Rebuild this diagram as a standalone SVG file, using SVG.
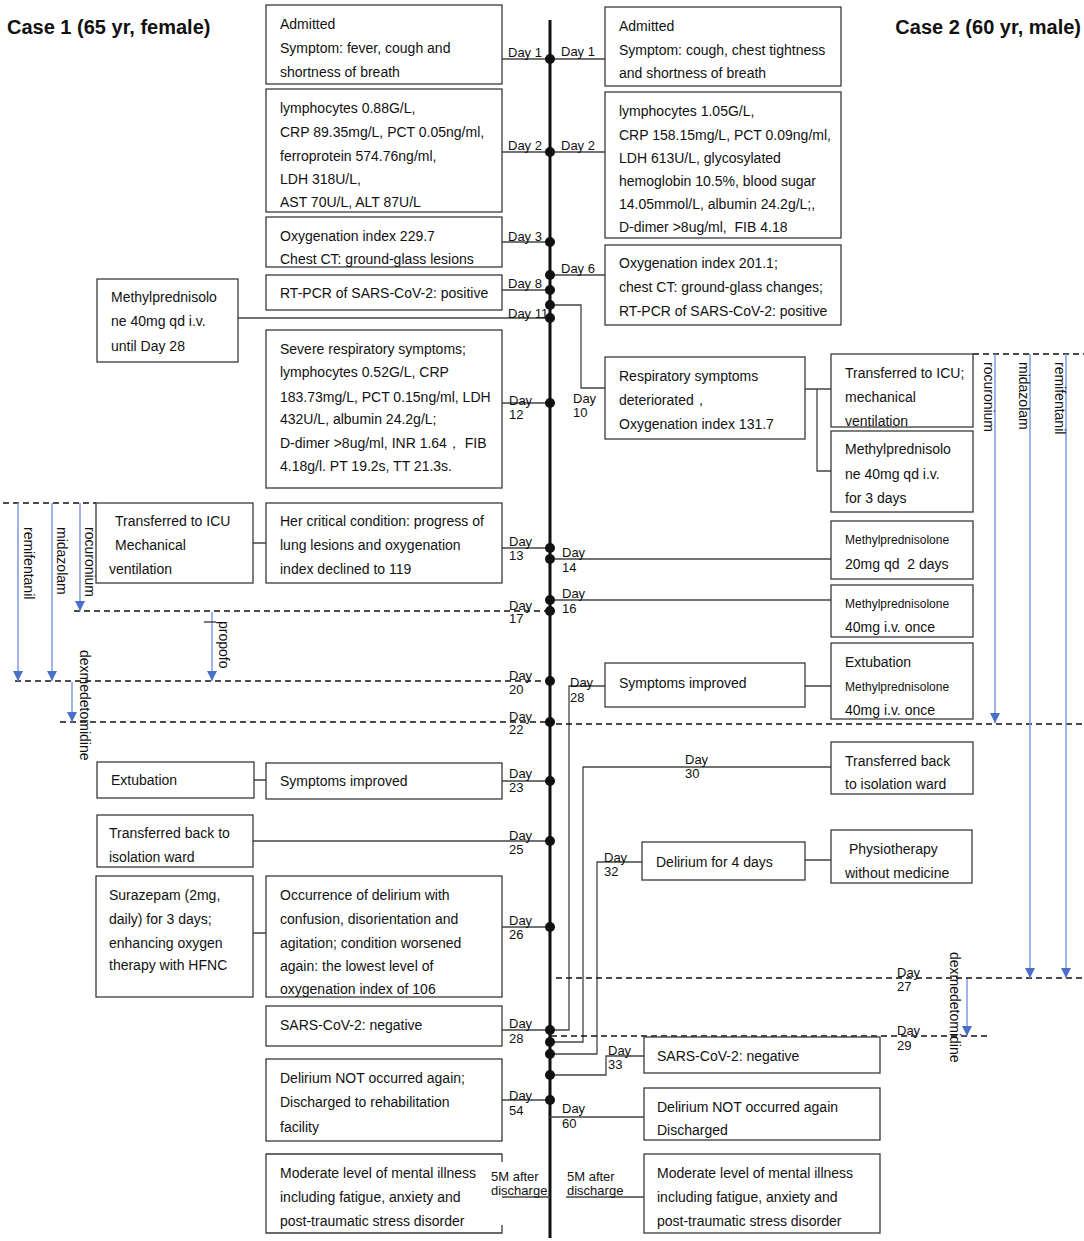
<svg xmlns="http://www.w3.org/2000/svg" width="1084" height="1241" viewBox="0 0 1084 1241">
<style>
.bx{fill:#fff;stroke:#3a3a3a;stroke-width:1.3}
text{font-family:"Liberation Sans",Arial,sans-serif;fill:#111}
.t{font-size:14px}
.s{font-size:12px}
.d{font-size:13px}
.h{font-size:20px;font-weight:bold}
.c{stroke:#444;stroke-width:1.3;fill:none}
.ds{stroke:#111;stroke-width:1.5;stroke-dasharray:6 4;fill:none}
.bl{stroke:#7c9bdc;stroke-width:1.5;fill:none;marker-end:url(#ar)}
.ax{stroke:#111;stroke-width:3}
</style>
<defs>
<marker id="ar" viewBox="0 0 10 10" refX="5" refY="10" markerWidth="10" markerHeight="10" markerUnits="userSpaceOnUse" orient="0">
<path d="M0,0 L10,0 L5,10 Z" fill="#4a6fc8"/>
</marker>
</defs>
<rect width="1084" height="1241" fill="#fff"/>
<text class="h" x="7" y="34">Case 1 (65 yr, female)</text>
<text class="h" x="1081" y="34" text-anchor="end">Case 2 (60 yr, male)</text>

<g id="connectors">
<line class="ax" x1="550" y1="20" x2="550" y2="1238"/>
<path class="c" d="M502,59H550M502,152H550M502,242H550M502,290H550M238,318H550M502,403H550M502,548H550M502,781H550M253,841H550M502,927H550M502,1030H550M502,1100H550M502,1197H550"/>
<path class="c" d="M253,543H266M254,780H266M253,933H266"/>
<path class="c" d="M550,59H605M550,152H605M550,275H605M550,305H581V388H605M550,559H831M550,600H831"/>
<path class="c" d="M550,1030H569V686H605M550,1042H583V767H831M550,1054H597V862H642M550,1075H606V1056H644M550,1117H644M566,1197H644"/>
<path class="c" d="M805,389H831M817,389V471H831M805,686H831M805,860H831"/>
<path class="ds" d="M3,503H96M74,611H550M15,681H550M60,722H550M556,724H1084M973,354H1084M556,978H1084M551,1036H989"/>
<path class="bl" d="M18,503V681"/>
<path class="bl" d="M52,503V681"/>
<path class="bl" d="M80,503V611"/>
<path class="bl" d="M212,612V681"/>
<path class="bl" d="M72,682V722"/>
<path class="c" style="stroke:#333" d="M204,622H216"/>
<path class="bl" d="M995,354V723"/>
<path class="bl" d="M1030,354V978"/>
<path class="bl" d="M1066,354V978"/>
<path class="bl" d="M967,979V1036"/>
<g fill="#111">
<circle cx="550" cy="59" r="5"/><circle cx="550" cy="152" r="5"/><circle cx="550" cy="242" r="5"/>
<circle cx="550" cy="275" r="5"/><circle cx="550" cy="290" r="5"/><circle cx="550" cy="305" r="5"/><circle cx="550" cy="318" r="5"/>
<circle cx="550" cy="403" r="5"/><circle cx="550" cy="548" r="5"/><circle cx="550" cy="559" r="5"/>
<circle cx="550" cy="600" r="5"/><circle cx="550" cy="611" r="5"/><circle cx="550" cy="681" r="5"/>
<circle cx="550" cy="722" r="5"/><circle cx="550" cy="781" r="5"/><circle cx="550" cy="841" r="5"/>
<circle cx="550" cy="927" r="5"/><circle cx="550" cy="1030" r="5"/><circle cx="550" cy="1042" r="5"/>
<circle cx="550" cy="1054" r="5"/><circle cx="550" cy="1075" r="5"/><circle cx="550" cy="1100" r="5"/>
</g>
</g>

<g id="drug-labels">
<text class="t" transform="translate(24,527) rotate(90)">remifentanil</text>
<text class="t" transform="translate(57,527) rotate(90)">midazolam</text>
<text class="t" transform="translate(85,527) rotate(90)">rocuronium</text>
<text class="t" transform="translate(219,621) rotate(90)">propofo</text>
<text class="t" transform="translate(80,650) rotate(90)">dexmedetomidine</text>
<text class="t" transform="translate(984,362) rotate(90)">rocuronium</text>
<text class="t" transform="translate(1019,362) rotate(90)">midazolam</text>
<text class="t" transform="translate(1055,362) rotate(90)">remifentanil</text>
<text class="t" transform="translate(950,952) rotate(90)">dexmedetomidine</text>
</g>

<g id="L1"><rect class="bx" x="266" y="5" width="236" height="79"/>
<text class="t" x="280" y="29">Admitted</text><text class="t" x="280" y="53">Symptom: fever, cough and</text><text class="t" x="280" y="77">shortness of breath</text></g>
<g id="L2"><rect class="bx" x="266" y="89" width="236" height="123"/>
<text class="t" x="280" y="113">lymphocytes 0.88G/L,</text><text class="t" x="280" y="137">CRP 89.35mg/L, PCT 0.05ng/ml,</text><text class="t" x="280" y="161">ferroprotein 574.76ng/ml,</text><text class="t" x="280" y="184">LDH 318U/L,</text><text class="t" x="280" y="207">AST 70U/L, ALT 87U/L</text></g>
<g id="L3"><rect class="bx" x="266" y="217" width="236" height="50"/>
<text class="t" x="280" y="241">Oxygenation index 229.7</text><text class="t" x="280" y="264">Chest CT: ground-glass lesions</text></g>
<g id="L4"><rect class="bx" x="266" y="275" width="236" height="35"/>
<text class="t" x="280" y="298">RT-PCR of SARS-CoV-2: positive</text></g>
<g id="L5"><rect class="bx" x="97" y="279" width="141" height="83"/>
<text class="t" x="111" y="302">Methylprednisolo</text><text class="t" x="111" y="326">ne 40mg qd i.v.</text><text class="t" x="111" y="351">until Day 28</text></g>
<g id="L6"><rect class="bx" x="266" y="330" width="236" height="158"/>
<text class="t" x="280" y="354">Severe respiratory symptoms;</text><text class="t" x="280" y="377">lymphocytes 0.52G/L, CRP</text><text class="t" x="280" y="402">183.73mg/L, PCT 0.15ng/ml, LDH</text><text class="t" x="280" y="424">432U/L, albumin 24.2g/L;</text><text class="t" x="280" y="448">D-dimer &gt;8ug/ml, INR 1.64， FIB</text><text class="t" x="280" y="471">4.18g/l. PT 19.2s, TT 21.3s.</text></g>
<g id="L7"><rect class="bx" x="96" y="503" width="157" height="80"/>
<text class="t" x="115" y="526">Transferred to ICU</text><text class="t" x="115" y="550">Mechanical</text><text class="t" x="109" y="574">ventilation</text></g>
<g id="L8"><rect class="bx" x="266" y="503" width="236" height="80"/>
<text class="t" x="280" y="526">Her critical condition: progress of</text><text class="t" x="280" y="550">lung lesions and oxygenation</text><text class="t" x="280" y="574">index declined to 119</text></g>
<g id="L9"><rect class="bx" x="97" y="762" width="157" height="36"/>
<text class="t" x="111" y="785">Extubation</text></g>
<g id="L10"><rect class="bx" x="266" y="763" width="236" height="36"/>
<text class="t" x="280" y="786">Symptoms improved</text></g>
<g id="L11"><rect class="bx" x="97" y="815" width="156" height="52"/>
<text class="t" x="109" y="838">Transferred back to</text><text class="t" x="109" y="862">isolation ward</text></g>
<g id="L12"><rect class="bx" x="96" y="876" width="157" height="121"/>
<text class="t" x="109" y="900">Surazepam (2mg,</text><text class="t" x="109" y="924">daily) for 3 days;</text><text class="t" x="109" y="948">enhancing oxygen</text><text class="t" x="109" y="970">therapy with HFNC</text></g>
<g id="L13"><rect class="bx" x="266" y="876" width="236" height="121"/>
<text class="t" x="280" y="900">Occurrence of delirium with</text><text class="t" x="280" y="924">confusion, disorientation and</text><text class="t" x="280" y="948">agitation; condition worsened</text><text class="t" x="280" y="971">again: the lowest level of</text><text class="t" x="280" y="994">oxygenation index of 106</text></g>
<g id="L14"><rect class="bx" x="266" y="1006" width="236" height="40"/>
<text class="t" x="280" y="1030">SARS-CoV-2: negative</text></g>
<g id="L15"><rect class="bx" x="266" y="1059" width="236" height="82"/>
<text class="t" x="280" y="1083">Delirium NOT occurred again;</text><text class="t" x="280" y="1107">Discharged to rehabilitation</text><text class="t" x="280" y="1132">facility</text></g>
<g id="L16"><path class="bx" style="fill:none" d="M502,1162V1154H266V1233H502V1225"/>
<text class="t" x="280" y="1178">Moderate level of mental illness</text><text class="t" x="280" y="1202">including fatigue, anxiety and</text><text class="t" x="280" y="1226">post-traumatic stress disorder</text></g>

<g id="R1"><rect class="bx" x="605" y="7" width="236" height="79"/>
<text class="t" x="619" y="31">Admitted</text><text class="t" x="619" y="55">Symptom: cough, chest tightness</text><text class="t" x="619" y="78">and shortness of breath</text></g>
<g id="R2"><rect class="bx" x="605" y="92" width="236" height="146"/>
<text class="t" x="619" y="116">lymphocytes 1.05G/L,</text><text class="t" x="619" y="140">CRP 158.15mg/L, PCT 0.09ng/ml,</text><text class="t" x="619" y="163">LDH 613U/L, glycosylated</text><text class="t" x="619" y="186">hemoglobin 10.5%, blood sugar</text><text class="t" x="619" y="209">14.05mmol/L, albumin 24.2g/L;,</text><text class="t" x="619" y="232">D-dimer &gt;8ug/ml,&#160; FIB 4.18</text></g>
<g id="R3"><rect class="bx" x="605" y="245" width="236" height="80"/>
<text class="t" x="619" y="268">Oxygenation index 201.1;</text><text class="t" x="619" y="292">chest CT: ground-glass changes;</text><text class="t" x="619" y="316">RT-PCR of SARS-CoV-2: positive</text></g>
<g id="R4"><rect class="bx" x="605" y="357" width="200" height="82"/>
<text class="t" x="619" y="381">Respiratory symptoms</text><text class="t" x="619" y="405">deteriorated，</text><text class="t" x="619" y="429">Oxygenation index 131.7</text></g>
<g id="R5"><rect class="bx" x="831" y="354" width="142" height="73"/>
<text class="t" x="845" y="378">Transferred to ICU;</text><text class="t" x="845" y="402">mechanical</text><text class="t" x="845" y="426">ventilation</text></g>
<g id="R6"><rect class="bx" x="831" y="431" width="142" height="81"/>
<text class="t" x="845" y="454">Methylprednisolo</text><text class="t" x="845" y="479">ne 40mg qd i.v.</text><text class="t" x="845" y="503">for 3 days</text></g>
<g id="R7"><rect class="bx" x="831" y="521" width="142" height="58"/>
<text class="s" x="845" y="544">Methylprednisolone</text><text class="t" x="845" y="569">20mg qd&#160; 2 days</text></g>
<g id="R8"><rect class="bx" x="831" y="585" width="142" height="52"/>
<text class="s" x="845" y="608">Methylprednisolone</text><text class="t" x="845" y="632">40mg i.v. once</text></g>
<g id="R9"><rect class="bx" x="831" y="643" width="142" height="76"/>
<text class="t" x="845" y="667">Extubation</text><text class="s" x="845" y="691">Methylprednisolone</text><text class="t" x="845" y="715">40mg i.v. once</text></g>
<g id="R10"><rect class="bx" x="605" y="663" width="200" height="44"/>
<text class="t" x="619" y="688">Symptoms improved</text></g>
<g id="R11"><rect class="bx" x="831" y="742" width="142" height="52"/>
<text class="t" x="845" y="766">Transferred back</text><text class="t" x="845" y="789">to isolation ward</text></g>
<g id="R12"><rect class="bx" x="642" y="842" width="163" height="38"/>
<text class="t" x="656" y="867">Delirium for 4 days</text></g>
<g id="R13"><rect class="bx" x="831" y="830" width="141" height="53"/>
<text class="t" x="849" y="854">Physiotherapy</text><text class="t" x="845" y="878">without medicine</text></g>
<g id="R14"><rect class="bx" x="644" y="1037" width="236" height="36"/>
<text class="t" x="657" y="1061">SARS-CoV-2: negative</text></g>
<g id="R15"><rect class="bx" x="644" y="1088" width="236" height="52"/>
<text class="t" x="657" y="1112">Delirium NOT occurred again</text><text class="t" x="657" y="1135">Discharged</text></g>
<g id="R16"><rect class="bx" x="644" y="1154" width="236" height="79"/>
<text class="t" x="657" y="1178">Moderate level of mental illness</text><text class="t" x="657" y="1202">including fatigue, anxiety and</text><text class="t" x="657" y="1226">post-traumatic stress disorder</text></g>

<g id="day-labels">
<text class="d" x="508" y="57">Day 1</text>
<text class="d" x="508" y="150">Day 2</text>
<text class="d" x="508" y="241">Day 3</text>
<text class="d" x="508" y="288">Day 8</text>
<text class="d" x="508" y="318">Day 11</text>
<text class="d" x="509" y="405">Day</text><text class="d" x="509" y="419">12</text>
<text class="d" x="509" y="546">Day</text><text class="d" x="509" y="560">13</text>
<text class="d" x="509" y="610">Day</text><text class="d" x="509" y="623">17</text>
<text class="d" x="509" y="680">Day</text><text class="d" x="509" y="694">20</text>
<text class="d" x="509" y="721">Day</text><text class="d" x="509" y="734">22</text>
<text class="d" x="509" y="778">Day</text><text class="d" x="509" y="792">23</text>
<text class="d" x="509" y="840">Day</text><text class="d" x="509" y="854">25</text>
<text class="d" x="509" y="925">Day</text><text class="d" x="509" y="939">26</text>
<text class="d" x="509" y="1028">Day</text><text class="d" x="509" y="1043">28</text>
<text class="d" x="509" y="1100">Day</text><text class="d" x="509" y="1115">54</text>
<text class="d" x="491" y="1181">5M after</text><text class="d" x="491" y="1195">discharge</text>
<text class="d" x="561" y="56">Day 1</text>
<text class="d" x="561" y="150">Day 2</text>
<text class="d" x="561" y="273">Day 6</text>
<text class="d" x="573" y="403">Day</text><text class="d" x="573" y="417">10</text>
<text class="d" x="562" y="557">Day</text><text class="d" x="562" y="572">14</text>
<text class="d" x="562" y="598">Day</text><text class="d" x="562" y="613">16</text>
<text class="d" x="570" y="687">Day</text><text class="d" x="570" y="702">28</text>
<text class="d" x="685" y="764">Day</text><text class="d" x="685" y="778">30</text>
<text class="d" x="604" y="862">Day</text><text class="d" x="604" y="876">32</text>
<text class="d" x="608" y="1055">Day</text><text class="d" x="608" y="1069">33</text>
<text class="d" x="897" y="977">Day</text><text class="d" x="897" y="991">27</text>
<text class="d" x="897" y="1035">Day</text><text class="d" x="897" y="1050">29</text>
<text class="d" x="562" y="1113">Day</text><text class="d" x="562" y="1128">60</text>
<text class="d" x="567" y="1181">5M after</text><text class="d" x="567" y="1195">discharge</text>
</g>
</svg>
